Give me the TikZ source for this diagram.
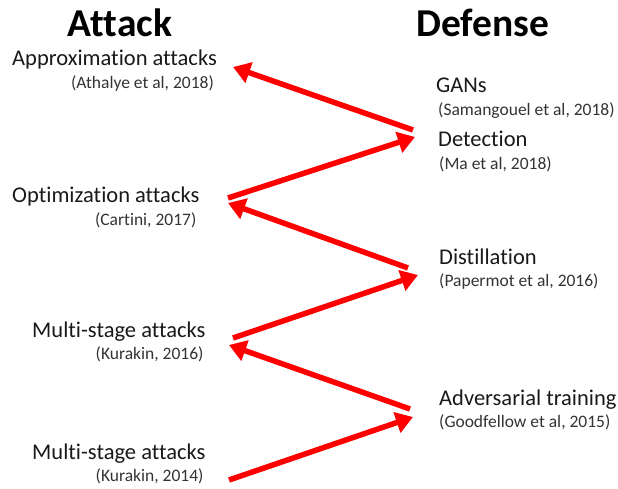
\documentclass[tikz,border=0pt]{standalone}
\usepackage{fontspec}
\setmainfont{Carlito}[Ligatures=CommonOff]
\usetikzlibrary{positioning,arrows.meta}

\begin{document}
\begin{tikzpicture}[x=1pt, y=-1pt,
      heading/.style={font=\fontsize{39.5}{44}\selectfont\bfseries, inner sep=0pt, anchor=base},
      method/.style={font=\fontsize{22.5}{26}\selectfont, text=black!90, inner sep=0pt,
                     anchor=base west, text height=16pt, text depth=5pt},
      cite/.style={font=\fontsize{17.5}{20}\selectfont, text=black!80, inner sep=0pt,
                   text height=13pt, text depth=4pt},
      race/.style={draw=red, line width=5.5pt, -{Triangle[length=17pt,width=21pt]}}]
    \useasboundingbox (0,0) rectangle (618,489);

    % column titles
    \node[heading] (attack) at (120,37) {Attack};
    \node[heading] (defense) at (483,37) {Defense};

    % attacks
    \node[method] (approx) at (12,66) {Approximation attacks};
    \node[cite, below left=4pt and 3pt of approx.south east] (approxcite) {(Athalye et al, 2018)};
    \node[method] (optim) at (12,203) {Optimization attacks};
    \node[cite, below left=4pt and 3pt of optim.south east] (optimcite) {(Cartini, 2017)};
    \node[method] (multinew) at (32,337) {Multi-stage attacks};
    \node[cite, below left=4pt and 2pt of multinew.south east] (multinewcite) {(Kurakin, 2016)};
    \node[method] (multiold) at (32,459) {Multi-stage attacks};
    \node[cite, below left=4pt and 2pt of multiold.south east] (multioldcite) {(Kurakin, 2014)};

    % defenses
    \node[method] (gans) at (436,93) {GANs};
    \node[cite, below right=4pt and 2pt of gans.south west] (ganscite) {(Samangouel et al, 2018)};
    \node[method] (detect) at (438,147) {Detection};
    \node[cite, below right=4pt and 1pt of detect.south west] (detectcite) {(Ma et al, 2018)};
    \node[method] (distill) at (439,264) {Distillation};
    \node[cite, below right=4pt and 0pt of distill.south west] (distillcite) {(Papermot et al, 2016)};
    \node[method] (advtrain) at (439,405) {Adversarial training};
    \node[cite, below right=4pt and 0pt of advtrain.south west] (advtraincite) {(Goodfellow et al, 2015)};

    % arrow ends
    \coordinate (detect-out) at (413,130);
    \coordinate (approx-in) at (233,67);
    \coordinate (optim-out) at (228,198);
    \coordinate (detect-in) at (415,137);
    \coordinate (distill-out) at (408,268);
    \coordinate (optim-in) at (228,203);
    \coordinate (multinew-out) at (233,338);
    \coordinate (distill-in) at (418,275);
    \coordinate (advtrain-out) at (410,409);
    \coordinate (multinew-in) at (229,345);
    \coordinate (multiold-out) at (229,480);
    \coordinate (advtrain-in) at (413,417);

    \draw[race] (detect-out) -- (approx-in);
    \draw[race] (optim-out) -- (detect-in);
    \draw[race] (distill-out) -- (optim-in);
    \draw[race] (multinew-out) -- (distill-in);
    \draw[race] (advtrain-out) -- (multinew-in);
    \draw[race] (multiold-out) -- (advtrain-in);
  \end{tikzpicture}
\end{document}
